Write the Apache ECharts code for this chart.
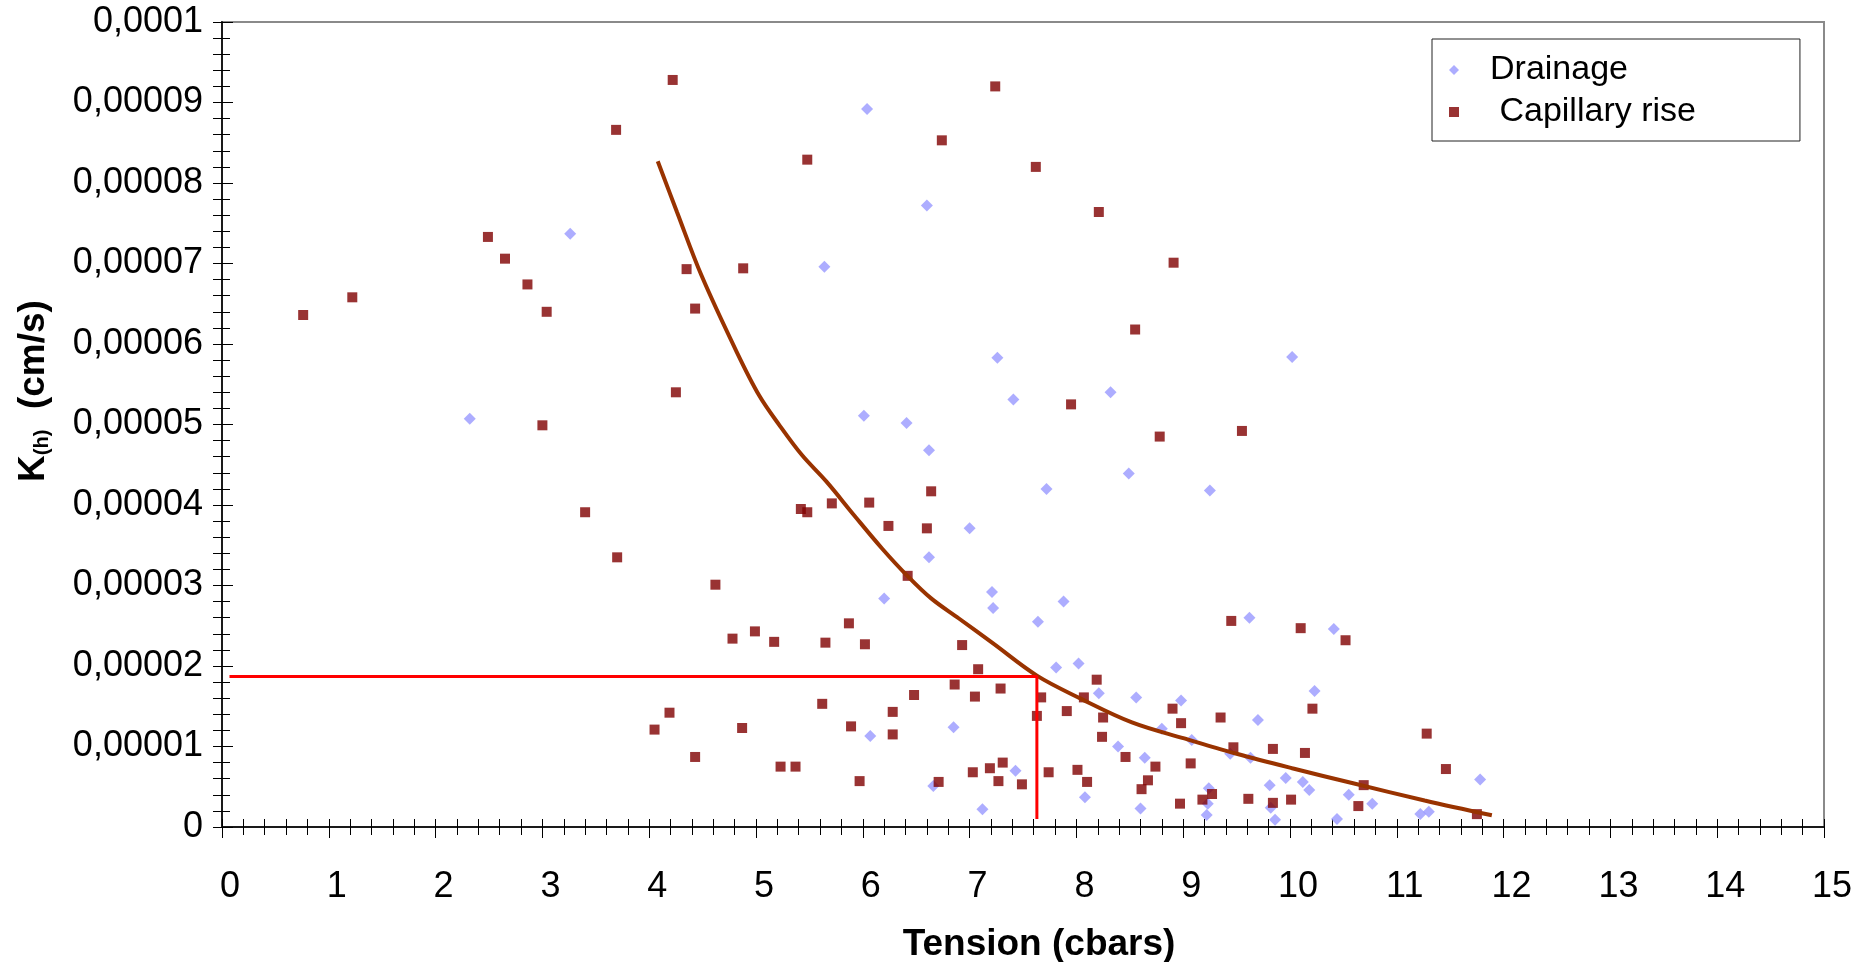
<!DOCTYPE html>
<html>
<head>
<meta charset="utf-8">
<script src="https://cdn.jsdelivr.net/npm/echarts@6/dist/echarts.min.js"></script>
<style>
  html, body { margin: 0; padding: 0; background: #ffffff; }
  #chart { width: 1853px; height: 962px; }
</style>
</head>
<body>
<div id="chart"></div>
<script>
// Hydraulic conductivity K(h) against soil water tension.
// Each point: [tension (cbars), K(h) (cm/s)]

const drainage = [
  [2.32, 50.7e-6], [3.26, 73.7e-6], [6.04, 89.2e-6], [6.60, 77.2e-6], [5.64, 69.6e-6],
  [7.26, 58.3e-6], [10.02, 58.4e-6], [8.32, 54.0e-6], [7.41, 53.1e-6], [6.01, 51.1e-6],
  [6.41, 50.2e-6], [6.62, 46.8e-6], [7.00, 37.1e-6], [6.62, 33.5e-6], [7.72, 42.0e-6],
  [8.49, 43.9e-6], [9.25, 41.8e-6], [6.20, 28.4e-6], [7.21, 29.2e-6], [7.22, 27.2e-6],
  [7.88, 28.0e-6], [7.64, 25.5e-6], [9.62, 26.0e-6], [7.81, 19.8e-6], [8.02, 20.3e-6],
  [8.21, 16.6e-6], [8.56, 16.1e-6], [8.98, 15.7e-6], [9.70, 13.3e-6], [6.07, 11.3e-6],
  [6.85, 12.4e-6], [8.39, 10.0e-6], [8.80, 12.2e-6], [9.08, 10.8e-6], [8.64, 8.6e-6],
  [9.44, 9.1e-6], [9.63, 8.6e-6], [9.96, 6.1e-6], [6.66, 5.1e-6], [7.43, 7.0e-6],
  [7.12, 2.2e-6], [8.08, 3.7e-6], [8.60, 2.3e-6], [9.24, 4.8e-6], [9.23, 2.9e-6],
  [9.22, 1.5e-6], [9.81, 5.2e-6], [9.82, 2.4e-6], [9.86, 0.9e-6], [10.41, 24.6e-6],
  [10.23, 16.9e-6], [11.78, 5.9e-6], [10.12, 5.6e-6], [10.18, 4.6e-6], [10.55, 4.0e-6],
  [10.77, 2.9e-6], [10.44, 1.0e-6], [11.22, 1.6e-6], [11.30, 1.9e-6]
];

const capillaryRise = [
  [0.76, 63.6e-6], [1.22, 65.8e-6], [2.49, 73.3e-6], [2.65, 70.6e-6], [2.86, 67.4e-6],
  [3.04, 64.0e-6], [3.00, 49.9e-6], [3.69, 86.6e-6], [4.22, 92.8e-6], [4.35, 69.3e-6],
  [4.43, 64.4e-6], [4.25, 54.0e-6], [4.88, 69.4e-6], [3.40, 39.1e-6], [3.70, 33.5e-6],
  [4.62, 30.1e-6], [4.78, 23.4e-6], [4.99, 24.3e-6], [4.19, 14.2e-6], [4.05, 12.1e-6],
  [4.87, 12.3e-6], [4.43, 8.7e-6], [5.48, 82.9e-6], [6.74, 85.3e-6], [7.24, 92.0e-6],
  [7.62, 82.0e-6], [8.21, 76.4e-6], [8.91, 70.1e-6], [8.55, 61.8e-6], [7.95, 52.5e-6],
  [8.78, 48.5e-6], [9.55, 49.2e-6], [6.64, 41.7e-6], [5.42, 39.5e-6], [5.48, 39.1e-6],
  [5.71, 40.2e-6], [6.06, 40.3e-6], [6.24, 37.4e-6], [6.60, 37.1e-6], [6.42, 31.2e-6],
  [9.45, 25.6e-6], [5.17, 23.0e-6], [5.65, 22.9e-6], [5.87, 25.3e-6], [6.02, 22.7e-6],
  [6.93, 22.6e-6], [7.08, 19.6e-6], [8.19, 18.3e-6], [6.86, 17.7e-6], [6.48, 16.4e-6],
  [7.05, 16.2e-6], [7.29, 17.2e-6], [7.67, 16.1e-6], [8.07, 16.1e-6], [5.62, 15.3e-6],
  [6.28, 14.3e-6], [7.91, 14.4e-6], [7.63, 13.8e-6], [8.25, 13.6e-6], [8.90, 14.7e-6],
  [8.98, 12.9e-6], [9.35, 13.6e-6], [5.89, 12.5e-6], [6.28, 11.5e-6], [8.24, 11.2e-6],
  [8.46, 8.7e-6], [8.74, 7.5e-6], [9.07, 7.9e-6], [9.47, 9.9e-6], [9.84, 9.7e-6],
  [5.23, 7.5e-6], [5.37, 7.5e-6], [5.97, 5.7e-6], [6.71, 5.6e-6], [7.03, 6.8e-6],
  [7.19, 7.3e-6], [7.31, 8.0e-6], [7.27, 5.7e-6], [7.49, 5.3e-6], [7.74, 6.8e-6],
  [8.01, 7.1e-6], [8.10, 5.6e-6], [8.67, 5.8e-6], [8.61, 4.7e-6], [8.97, 2.9e-6],
  [9.27, 4.1e-6], [9.18, 3.4e-6], [9.61, 3.5e-6], [9.84, 3.0e-6], [10.01, 3.4e-6],
  [10.10, 24.7e-6], [10.52, 23.2e-6], [10.21, 14.7e-6], [10.14, 9.2e-6], [11.28, 11.6e-6],
  [11.46, 7.2e-6], [10.69, 5.2e-6], [10.64, 2.6e-6], [11.75, 1.6e-6]
];

// Fitted K(h) curve
const fittedCurve = [
  [4.08, 82.7e-6], [4.26, 76.4e-6], [4.49, 68.5e-6], [4.82, 59.0e-6], [5.03, 53.6e-6],
  [5.22, 49.9e-6], [5.43, 46.2e-6], [5.66, 42.9e-6], [5.92, 38.7e-6], [6.18, 34.6e-6],
  [6.41, 31.3e-6], [6.64, 28.4e-6], [6.90, 25.9e-6], [7.22, 22.8e-6], [7.63, 18.8e-6],
  [8.04, 15.95e-6], [8.52, 13.0e-6], [9.01, 11.0e-6], [9.50, 9.1e-6], [10.02, 7.3e-6],
  [10.60, 5.4e-6], [11.26, 3.3e-6], [11.89, 1.45e-6]
];

// Reading of K at the chosen tension
const readingLine = [[0.07, 18.7e-6], [7.63, 18.7e-6], [7.63, 1.0e-6]];

const tensionScale = { min: 0, max: 15, step: 1 };
const kScale = { min: 0, max: 0.0001, step: 0.00001 };

const FONT = '"Liberation Sans", Arial, Helvetica, sans-serif';

function kLabel(v) {
  if (v === 0) return '0';
  return parseFloat(v.toPrecision(4)).toString().replace('.', ',');
}

const chart = echarts.init(document.getElementById('chart'), null, { renderer: 'canvas' });

// Ticks cross the axis lines: one axis draws the outer half, a twin draws the inner half.
function xAxisPair() {
  const base = {
    type: 'value', gridIndex: 0, position: 'bottom',
    min: tensionScale.min, max: tensionScale.max, interval: tensionScale.step,
    splitLine: { show: false }
  };
  return [
    Object.assign({}, base, {
      name: 'Tension (cbars)',
      nameLocation: 'middle',
      nameGap: 96,
      nameTextStyle: { fontFamily: FONT, fontSize: 37, fontWeight: 'bold', color: '#000', lineHeight: 44, padding: [0, 0, 0, 32] },
      axisLine: { show: true, onZero: false, lineStyle: { color: '#1a1a1a', width: 2 } },
      axisTick: { show: true, inside: false, length: 11, lineStyle: { color: '#000', width: 1 } },
      minorTick: { show: true, splitNumber: 5, length: 8, lineStyle: { color: '#000', width: 1 } },
      axisLabel: { show: true, margin: 40, fontFamily: FONT, fontSize: 36, color: '#000', lineHeight: 40, padding: [0, 0, 0, 16] }
    }),
    Object.assign({}, base, {
      axisLine: { show: false },
      axisTick: { show: true, inside: true, length: 8, lineStyle: { color: '#000', width: 1 } },
      minorTick: { show: true, splitNumber: 5, length: 8, lineStyle: { color: '#000', width: 1 } },
      axisLabel: { show: false }
    })
  ];
}

function yAxisPair() {
  const base = {
    type: 'value', gridIndex: 0, position: 'left',
    min: kScale.min, max: kScale.max, interval: kScale.step,
    splitLine: { show: false }
  };
  return [
    Object.assign({}, base, {
      name: '{k|K}{s|(h)}{k|  (cm/s)}',
      nameLocation: 'middle',
      nameRotate: 90,
      nameGap: 166,
      nameTextStyle: {
        padding: [0, 0, 0, 67],
        rich: {
          k: { fontFamily: FONT, fontSize: 37, fontWeight: 'bold', color: '#000', lineHeight: 44 },
          s: { fontFamily: FONT, fontSize: 20, fontWeight: 'bold', color: '#000', lineHeight: 20, verticalAlign: 'bottom', padding: [0, 0, 4, 0] }
        }
      },
      axisLine: { show: true, onZero: false, lineStyle: { color: '#1a1a1a', width: 2 } },
      axisTick: { show: true, inside: false, length: 9, lineStyle: { color: '#000', width: 1 } },
      minorTick: { show: true, splitNumber: 5, length: 9, lineStyle: { color: '#000', width: 1 } },
      axisLabel: { show: true, margin: 19, fontFamily: FONT, fontSize: 36, color: '#000', formatter: kLabel }
    }),
    Object.assign({}, base, {
      axisLine: { show: false },
      axisTick: { show: true, inside: true, length: 11, lineStyle: { color: '#000', width: 1 } },
      minorTick: { show: true, splitNumber: 5, length: 8, lineStyle: { color: '#000', width: 1 } },
      axisLabel: { show: false }
    })
  ];
}

const option = {
  animation: false,
  backgroundColor: '#ffffff',
  textStyle: { fontFamily: FONT },
  grid: {
    show: true, left: 222, right: 29, top: 22, bottom: 135,
    outerBoundsMode: 'none',
    borderColor: '#8a8a8a', borderWidth: 2, backgroundColor: 'transparent'
  },
  legend: {
    data: ['Drainage', 'Capillary rise'],
    formatter: function (name) { return name === 'Capillary rise' ? ' ' + name : name; },
    orient: 'vertical',
    left: 1432, top: 39,
    padding: [10, 104, 8, 17],
    itemGap: 0,
    itemWidth: 10, itemHeight: 10,
    borderColor: '#222', borderWidth: 1,
    backgroundColor: '#ffffff',
    selectedMode: false,
    textStyle: { fontFamily: FONT, fontSize: 34, color: '#000', lineHeight: 42, padding: [0, 0, 0, 26] }
  },
  xAxis: xAxisPair(),
  yAxis: yAxisPair(),
  series: [
    {
      name: 'Drainage', type: 'scatter', xAxisIndex: 0, yAxisIndex: 0,
      symbol: 'diamond', symbolSize: [12, 12],
      itemStyle: { color: '#9999ff' },
      data: drainage, z: 2
    },
    {
      name: 'Capillary rise', type: 'scatter', xAxisIndex: 0, yAxisIndex: 0,
      symbol: 'rect', symbolSize: [10, 10],
      itemStyle: { color: '#800000' },
      data: capillaryRise, z: 3
    },
    {
      name: 'fit', type: 'line', xAxisIndex: 0, yAxisIndex: 0,
      data: fittedCurve, smooth: 0.35, symbol: 'none',
      lineStyle: { color: '#993300', width: 4 }, z: 4
    },
    {
      name: 'reading', type: 'line', xAxisIndex: 0, yAxisIndex: 0,
      data: readingLine, smooth: false, symbol: 'none',
      lineStyle: { color: '#ff0000', width: 3 }, z: 5
    }
  ]
};

chart.setOption(option);
</script>
</body>
</html>
